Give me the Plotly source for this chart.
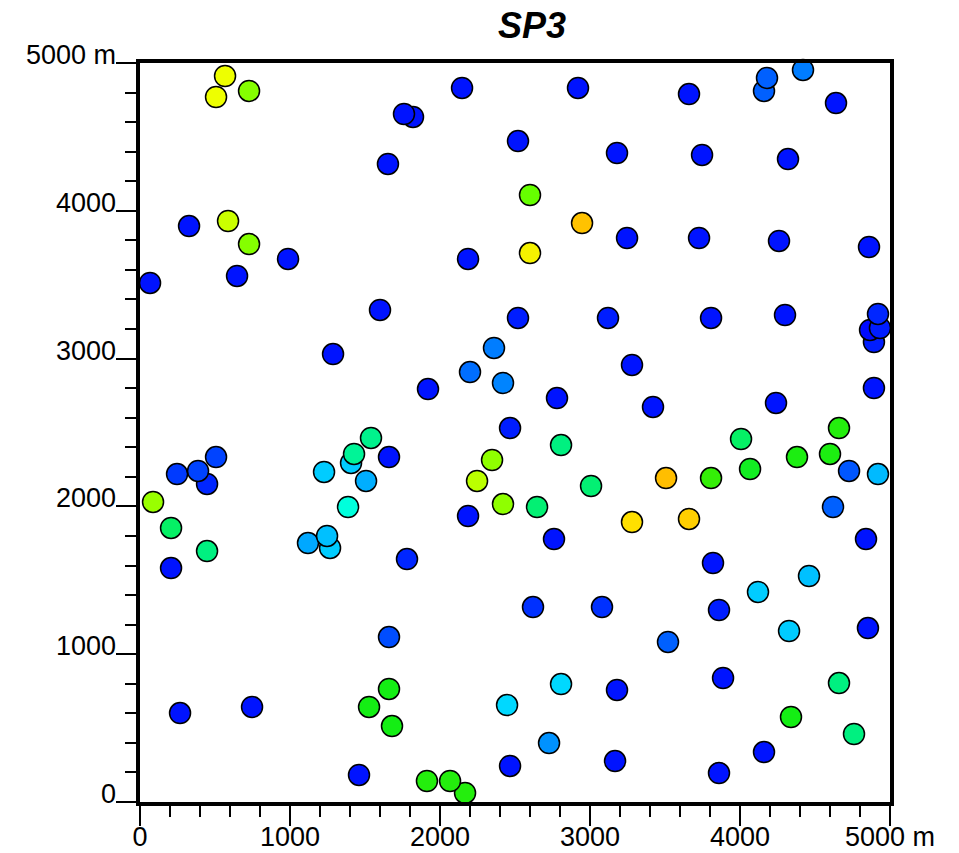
import plotly.graph_objects as go

# Sample locations (easting / northing, metres) and the measured value at each
east = [67, 327, 647, 987, 567, 507, 727, 587, 727, 1820, 1760, 1653, 2147, 2520,
        2920, 2600, 2947, 2600, 3180, 3660, 4160, 4180, 4420, 4640, 3747, 4320,
        3247, 3727, 4260, 4860, 2187, 1600, 1287, 2520, 3120, 3807, 4300, 4893,
        4867, 4933, 4920, 4893, 1920, 2360, 2200, 2420, 2780, 3280, 3420, 2467,
        4240, 2807, 2347, 2247, 2420, 2647, 3007, 3507, 3280, 3660, 3807, 4007,
        4067, 4380, 4660, 4600, 4727, 4920, 4620, 4840, 2760, 2187, 1780, 3820,
        4460, 4120, 3860, 3520, 4327, 4853, 3080, 2620, 1660, 4660, 3887, 3180,
        2807, 2447, 2727, 4340, 4760, 4160, 3860, 3167, 2467, 2167, 2067, 1913,
        1460, 1660, 1527, 1680, 747, 267, 207, 447, 207, 87, 247, 447, 387, 507,
        1120, 1267, 1247, 1227, 1407, 1427, 1540, 1660, 1507, 1387]

north = [3512, 3897, 3559, 3674, 4912, 4770, 4811, 3931, 3775, 4635, 4655, 4317,
         4831, 4472, 4831, 4107, 3917, 3714, 4391, 4790, 4811, 4899, 4953, 4729,
         4378, 4350, 3816, 3816, 3796, 3755, 3674, 3329, 3031, 3275, 3275, 3275,
         3295, 3112, 3194, 3207, 3302, 2801, 2794, 3072, 2909, 2835, 2733, 2957,
         2673, 2530, 2700, 2415, 2314, 2172, 2016, 1996, 2138, 2192, 1894, 1915,
         2192, 2456, 2253, 2334, 2530, 2355, 2240, 2219, 1996, 1779, 1779, 1935,
         1644, 1617, 1529, 1421, 1299, 1083, 1157, 1177, 1319, 1319, 1116, 805,
         839, 758, 798, 656, 399, 575, 460, 338, 196, 277, 244, 61, 142, 142, 183,
         765, 643, 514, 643, 602, 1583, 1698, 1854, 2030, 2219, 2152, 2240, 2334,
         1752, 1719, 1800, 2233, 2294, 2355, 2463, 2334, 2172, 1996]

value = [2, 2, 2, 2, 77, 77, 63, 71, 63, 2, 2, 2, 2, 2, 2, 60, 91, 80, 2, 2, 10,
         10, 14, 2, 2, 2, 2, 2, 2, 2, 2, 2, 2, 3, 3, 2, 2, 3, 1, 3, 4, 2, 2, 14,
         12, 15, 2, 2, 2, 3, 2, 42, 64, 69, 64, 43, 43, 92, 84, 88, 54, 44, 49,
         51, 52, 51, 9, 23, 10, 2, 2, 2, 4, 2, 24, 26, 3, 10, 26, 2, 5, 5, 8, 42,
         2, 2, 28, 28, 17, 50, 42, 2, 2, 2, 2, 52, 52, 52, 2, 50, 50, 50, 2, 2, 2,
         42, 44, 65, 6, 4, 7, 7, 20, 26, 24, 26, 26, 40, 41, 2, 21, 34]

tick_vals = [0, 1000, 2000, 3000, 4000, 5000]
tick_text = ["0", "1000", "2000", "3000", "4000", "5000 m"]

colorscale = [
    [0.00, "#0000ff"], [0.10, "#0060ff"], [0.20, "#00a8ff"], [0.28, "#00d8ff"],
    [0.34, "#00ffdc"], [0.42, "#00f080"], [0.50, "#14ee14"], [0.56, "#44ee00"],
    [0.60, "#66ff00"], [0.65, "#99ff00"], [0.70, "#c4ff00"], [0.77, "#eeff00"],
    [0.84, "#ffe000"], [0.92, "#ffbe00"], [1.00, "#ffa000"],
]

FONT = "Liberation Sans, Arial, sans-serif"

fig = go.Figure(
    go.Scatter(
        x=east, y=north, mode="markers", cliponaxis=False,
        marker=dict(size=21, color=value, colorscale=colorscale, cmin=0, cmax=100,
                    line=dict(color="black", width=1.5), opacity=1),
        hovertemplate="E %{x} m<br>N %{y} m<extra></extra>",
    )
)

axis_font = dict(family=FONT, size=27, color="black")
common = dict(
    range=[0, 5000], tickvals=tick_vals, ticks="outside", automargin=False,
    ticklen=20, tickwidth=2, tickcolor="black", showline=True, linewidth=4,
    linecolor="black", mirror=True, showgrid=False, zeroline=False,
    tickfont=axis_font, fixedrange=True,
    minor=dict(dtick=200, ticks="outside", ticklen=11, tickwidth=2,
               tickcolor="black", showgrid=False),
)

# y labels sit with their baseline on the tick, so they are drawn as annotations
y_labels = [
    dict(text=t, xref="paper", yref="y", x=0, y=v, xanchor="right",
         yanchor="middle", xshift=-22, yshift=8, showarrow=False, font=axis_font)
    for v, t in zip(tick_vals, tick_text)
]

fig.update_layout(
    width=959, height=853, autosize=False,
    margin=dict(l=140, r=69, t=63, b=51),
    paper_bgcolor="white", plot_bgcolor="white", showlegend=False,
    xaxis=dict(**common, ticktext=tick_text, ticklabelstandoff=-12),
    yaxis=dict(**common, showticklabels=False),
    annotations=y_labels + [dict(
        text="<b><i>SP3</i></b>", xref="paper", yref="paper", x=0.523, y=1.051,
        xanchor="center", yanchor="middle", showarrow=False,
        font=dict(family=FONT, size=36, color="black"),
    )],
)

fig.write_html("out.html")
